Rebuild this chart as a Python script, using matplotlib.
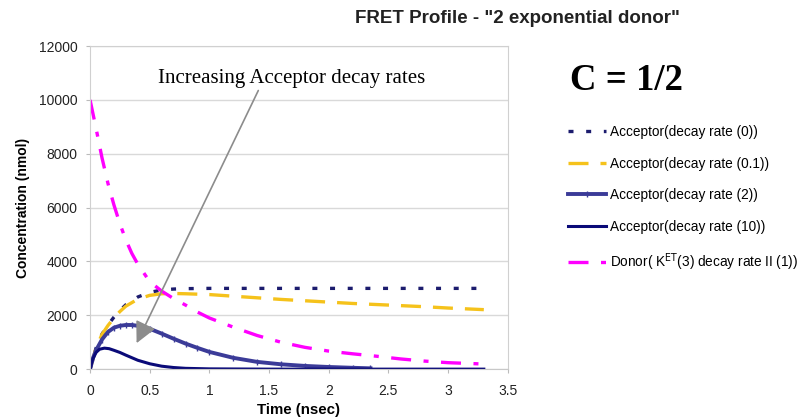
import matplotlib
matplotlib.use("Agg")
import matplotlib.pyplot as plt

# values (time in nsec, concentration in nmol)
t_acc = [0, 0.05, 0.1, 0.15, 0.2, 0.25, 0.3, 0.4, 0.5, 0.6, 0.7, 0.8, 1.0, 1.2, 1.4,
         1.6, 1.8, 2.0, 2.2, 2.4, 2.6, 2.8, 3.0, 3.3]
acc_0 = [0, 780, 1300, 1640, 1930, 2180, 2390, 2680, 2850, 2940, 2975, 2990, 3000, 3000,
         3000, 3000, 3000, 3000, 3000, 3000, 3000, 3000, 3000, 3000]
acc_01 = [0, 780, 1290, 1620, 1900, 2140, 2340, 2600, 2740, 2800, 2810, 2800, 2770, 2710,
          2650, 2590, 2540, 2490, 2440, 2400, 2360, 2320, 2270, 2210]

t_acc2 = [0, 0.025, 0.05, 0.1, 0.15, 0.2, 0.25, 0.3, 0.35, 0.4, 0.5, 0.6, 0.7, 0.8, 0.9,
          1.0, 1.2, 1.4, 1.6, 1.8, 2.0, 2.2, 2.35]
acc_2 = [0, 420, 700, 1100, 1380, 1540, 1610, 1640, 1640, 1610, 1500, 1320, 1130, 950,
         790, 640, 420, 270, 180, 120, 80, 50, 30]

t_acc10 = [0, 0.02, 0.05, 0.08, 0.12, 0.16, 0.2, 0.25, 0.3, 0.4, 0.5, 0.6, 0.7, 0.8, 1.0,
           1.5, 2.0, 2.5, 3.0, 3.3]
acc_10 = [0, 350, 620, 740, 780, 760, 700, 620, 520, 330, 200, 110, 60, 30, 10,
          0, 0, 0, 0, 0]

t_don = [0, 0.05, 0.1, 0.15, 0.2, 0.25, 0.3, 0.35, 0.4, 0.5, 0.6, 0.7, 0.8, 0.9, 1.0,
         1.2, 1.4, 1.6, 1.8, 2.0, 2.2, 2.4, 2.6, 2.8, 3.0, 3.3]
donor = [10000, 8950, 7850, 6900, 6100, 5400, 4800, 4300, 3900, 3250, 2900, 2620, 2380,
         2120, 1900, 1560, 1250, 1000, 810, 670, 570, 480, 380, 300, 240, 190]

labels = ["Acceptor(decay rate (0))", "Acceptor(decay rate (0.1))",
          "Acceptor(decay rate (2))", "Acceptor(decay rate (10))",
          r"Donor( K$^{\mathrm{ET}}$(3) decay rate II (1))"]

plt.rcParams['font.family'] = ['Liberation Sans', 'DejaVu Sans']

fig = plt.figure(figsize=(7.97, 4.19), dpi=100)
ax = fig.add_axes([0.113, 0.119, 0.524, 0.771])

ax.plot(t_acc, acc_0, color="#1c1c6e", lw=2.4, ls=(0, (1.5, 3.8)), label=labels[0])
ax.plot(t_acc, acc_01, color="#f5c21b", lw=2.4, ls=(0, (6, 3.6)), label=labels[1])
ax.plot(t_acc2, acc_2, color="#3b3b98", lw=2.8, marker="|", ms=4, mew=1,
        label=labels[2])
ax.plot(t_acc10, acc_10, color="#0a0a78", lw=2.2, label=labels[3])
ax.plot(t_don, donor, color="#ff00ff", lw=2.4, ls=(0, (6, 3.75, 1.5, 3.75)), label=labels[4])

ax.set_xlim(0, 3.5)
ax.set_ylim(0, 12000)
ax.set_xticks([0, 0.5, 1, 1.5, 2, 2.5, 3, 3.5])
ax.set_xticklabels(["0", "0.5", "1", "1.5", "2", "2.5", "3", "3.5"])
ax.set_yticks(range(0, 12001, 2000))
ax.tick_params(labelsize=10, length=3, color="#bbbbbb", labelcolor="#222222")
ax.tick_params(axis="x", pad=8)
ax.tick_params(axis="y", pad=6)
ax.grid(axis="y", color="#d9d9d9", lw=1)
ax.set_axisbelow(True)
for s in ax.spines.values():
    s.set_color("#d0d0d0")
ax.spines["bottom"].set_color("#c8c8c8")

ax.set_xlabel("Time (nsec)", fontsize=10.8, fontweight="bold", labelpad=3)
ax.set_ylabel("Concentration (nmol)", fontsize=10, fontweight="bold", labelpad=6)

fig.text(0.649, 0.955, 'FRET Profile - "2 exponential donor"', ha="center", va="center",
         fontsize=13.5, fontweight="bold", color="#222222")
fig.text(0.786, 0.809, "C = 1/2", ha="center", va="center", fontsize=26.5,
         fontweight="bold", family="Liberation Serif")

ax.text(1.69, 10800, "Increasing Acceptor decay rates", ha="center", va="center",
        fontsize=15, family="Liberation Serif")
ax.annotate("", xy=(0.39, 965), xytext=(1.41, 10350),
            arrowprops=dict(arrowstyle="-|>,head_length=1.3,head_width=0.65",
                            color="#8c8c8c", lw=1.2, shrinkA=0, shrinkB=0))

ax.legend(loc="upper left", bbox_to_anchor=(0.706, 0.715), bbox_transform=fig.transFigure,
          frameon=False, fontsize=9.8, handlelength=2.8, handletextpad=0.25,
          labelspacing=1.3, borderaxespad=0)

fig.savefig("out.png", dpi=100)
